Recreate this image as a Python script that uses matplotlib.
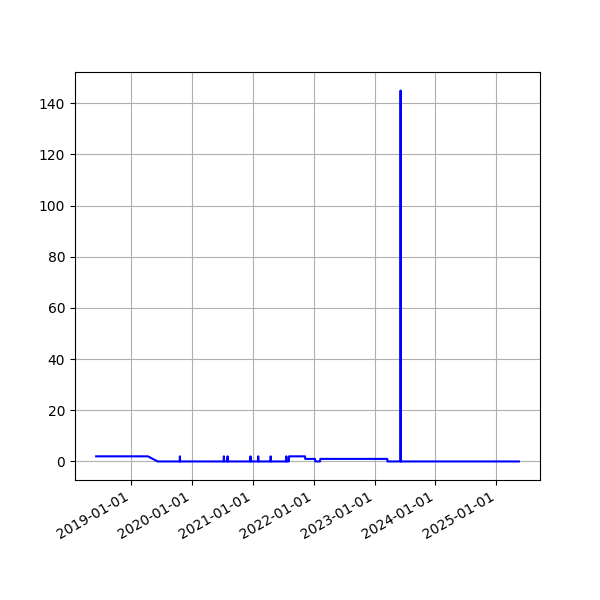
import matplotlib
matplotlib.use("Agg")
import matplotlib.pyplot as plt
import matplotlib.dates as mdates
import pandas as pd

dates = ["2018-06-04", "2019-04-11", "2019-05-10", "2019-06-09",
         "2019-10-19", "2019-10-20", "2019-10-21",
         "2020-07-09", "2020-07-10", "2020-07-11",
         "2020-07-31", "2020-08-01", "2020-08-02",
         "2020-12-16", "2020-12-17", "2020-12-18",
         "2021-01-31", "2021-02-01", "2021-02-02",
         "2021-04-16", "2021-04-17", "2021-04-18",
         "2021-07-19", "2021-07-20", "2021-07-21",
         "2021-08-04", "2021-08-05", "2021-11-09", "2021-11-10",
         "2022-01-08", "2022-01-10", "2022-02-07", "2022-02-09",
         "2023-03-18", "2023-03-19",
         "2023-06-05", "2023-06-06", "2023-06-07",
         "2025-05-16"]
values = [2, 2, 1, 0,
          0, 2, 0,
          0, 2, 0,
          0, 2, 0,
          0, 2, 0,
          0, 2, 0,
          0, 2, 0,
          0, 2, 0,
          0, 2, 2, 1,
          1, 0, 0, 1,
          1, 0,
          0, 145, 0,
          0]

x = pd.to_datetime(dates)

fig, ax = plt.subplots(figsize=(6, 6), dpi=100)
ax.plot(x, values, color="blue", linewidth=1.5)
ax.grid(True)
ax.xaxis.set_major_locator(mdates.YearLocator())
ax.xaxis.set_major_formatter(mdates.DateFormatter("%Y-%m-%d"))
fig.autofmt_xdate()
fig.savefig("out.png", dpi=100)
